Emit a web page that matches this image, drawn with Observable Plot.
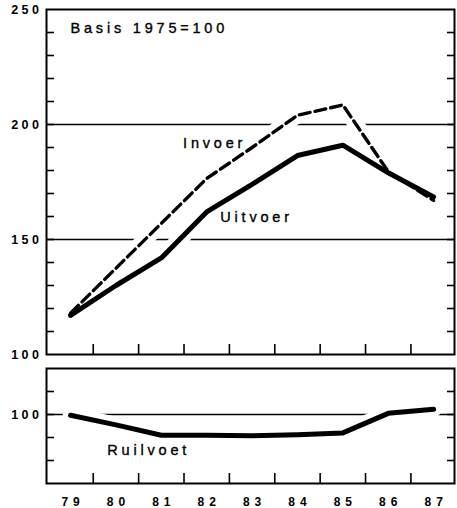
<!DOCTYPE html>
<html><head><meta charset="utf-8">
<script src="https://cdn.jsdelivr.net/npm/d3@7"></script>
<script src="https://cdn.jsdelivr.net/npm/@observablehq/plot@0.6"></script>
<style>
html,body{margin:0;padding:0;background:#fff;}
#chart svg{display:block;}
</style></head><body><div id="chart"></div>
<script>
// ---- data ----
const years = [79, 80, 81, 82, 83, 84, 85, 86, 87];
const uitvoer = [117, 130, 142, 162, 174, 186.5, 191, 179, 168.5];
const invoer = [118, 137.5, 157, 176.5, 190, 204, 208.5, 179.5, 167];
const ruilvoet = [99.7, 95.5, 91, 91, 90.8, 91.2, 92, 100.5, 102.3];

const topLabels = [250, 200, 150, 100];
const bottomLabels = [100];
const topMinor = [110, 120, 130, 140, 160, 170, 180, 190, 210, 220, 230, 240, 150, 200];
const bottomMinor = [80, 90, 100, 110];
const yearBounds = [79.5, 80.5, 81.5, 82.5, 83.5, 84.5, 85.5, 86.5];
const topGrid = [150, 200];
const bottomGrid = [100];
const note = "Basis 1975=100";
const seriesLabels = [
  {name: "Invoer", year: 81.48, value: 190},
  {name: "Uitvoer", year: 82.3, value: 157.4}
];
const ratioLabels = [{name: "Ruilvoet", year: 79.81, value: 82.2}];

// ---- tables ----
const topData = years.flatMap((y, i) => [
  {year: y, series: "Uitvoer", value: uitvoer[i]},
  {year: y, series: "Invoer", value: invoer[i]}
]);
const bottomData = years.map((y, i) => ({year: y, value: ruilvoet[i]}));

const xDomain = [78.47, 87.46];
const font = "'Liberation Sans', Arial, Helvetica, sans-serif";
const base = {width: 457, marginLeft: 46, marginRight: 3,
  style: {fontFamily: font, background: "#fff", color: "#000", overflow: "visible"}};

const frameTicks = (ticks) => [
  Plot.axisY(ticks, {anchor: "left", tickSize: 8, dx: 8, tickFormat: () => "", label: null, strokeWidth: 1.6}),
  Plot.axisY(ticks, {anchor: "right", tickSize: 8, dx: -8, tickFormat: () => "", label: null, strokeWidth: 1.6}),
  Plot.axisX(yearBounds, {anchor: "bottom", tickSize: 10, dy: -10, tickFormat: () => "", label: null, strokeWidth: 1.6})
];

const annot = {fontSize: 14.5, fill: "black", stroke: "black", strokeWidth: 0.35, textAnchor: "start", lineAnchor: "bottom"};

const topPlot = Plot.plot({
  ...base, height: 362, marginTop: 9, marginBottom: 8,
  x: {domain: xDomain, axis: null},
  y: {domain: [100, 250], axis: null},
  marks: [
    Plot.ruleY(topGrid, {strokeWidth: 1.5}),
    ...frameTicks(topMinor),
    Plot.axisY(topLabels, {anchor: "left", tickSize: 0, tickPadding: 4, label: null,
      fontSize: 12.5, fontWeight: "bold"}),
    Plot.line(topData, {x: "year", y: "value", z: "series", stroke: "white", strokeWidth: 16, strokeLinejoin: "round", strokeLinecap: "round"}),
    Plot.line(topData.filter(d => d.series === "Invoer"), {x: "year", y: "value", stroke: "black",
      strokeWidth: 3.4, strokeDasharray: "11,5"}),
    Plot.line(topData.filter(d => d.series === "Uitvoer"), {x: "year", y: "value", stroke: "black",
      strokeWidth: 5, strokeLinejoin: "round"}),
    Plot.text(seriesLabels, {x: "year", y: "value", text: "name", ...annot}),
    Plot.text([note], {frameAnchor: "top-left", dx: 24, dy: 23, ...annot}),
    Plot.frame({strokeWidth: 2})
  ]
});

const bottomPlot = Plot.plot({
  ...base, height: 146, marginTop: 6, marginBottom: 25,
  x: {domain: xDomain, axis: null},
  y: {domain: [70, 120], axis: null},
  marks: [
    Plot.ruleY(bottomGrid, {strokeWidth: 1.5}),
    ...frameTicks(bottomMinor),
    Plot.axisY(bottomLabels, {anchor: "left", tickSize: 0, tickPadding: 4, label: null,
      fontSize: 12.5, fontWeight: "bold"}),
    Plot.axisX(years, {anchor: "bottom", tickSize: 0, tickPadding: 14, label: null, dx: 2.5,
      fontSize: 12, fontWeight: "bold"}),
    Plot.line(bottomData, {x: "year", y: "value", stroke: "white", strokeWidth: 16, strokeLinejoin: "round", strokeLinecap: "round"}),
    Plot.line(bottomData, {x: "year", y: "value", stroke: "black", strokeWidth: 5, strokeLinejoin: "round"}),
    Plot.text(ratioLabels, {x: "year", y: "value", text: "name", ...annot}),
    Plot.frame({strokeWidth: 2})
  ]
});

const chart = document.getElementById("chart");
chart.append(topPlot, bottomPlot);
const spacing = {"12.5px": "3.5px", "12px": "5px", "14.5px": "3.8px"};
for (const svg of [topPlot, bottomPlot]) {
  svg.querySelectorAll("text").forEach(t => {
    const fs = getComputedStyle(t).fontSize;
    if (spacing[fs]) t.setAttribute("letter-spacing", spacing[fs]);
  });
}
</script></body></html>
